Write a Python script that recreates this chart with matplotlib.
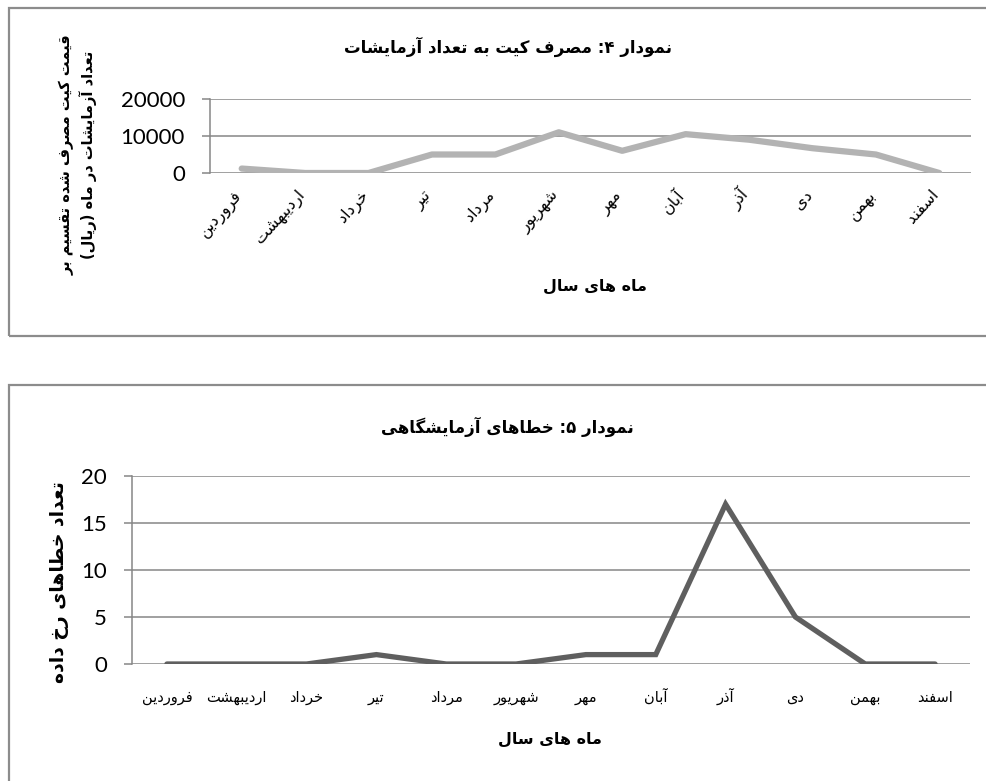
import matplotlib
matplotlib.use('Agg')
from matplotlib import pyplot as plt
from matplotlib.patches import Rectangle

# --- data ---
months = ['فروردین', 'اردیبهشت', 'خرداد', 'تیر', 'مرداد', 'شهریور',
          'مهر', 'آبان', 'آذر', 'دی', 'بهمن', 'اسفند']
kit_cost = [1200, 0, 0, 5000, 5000, 11000, 6000, 10500, 9000, 6700, 5000, 0]
lab_errors = [0, 0, 0, 1, 0, 0, 1, 1, 17, 5, 0, 0]

title_top = 'نمودار ۴: مصرف کیت به تعداد آزمایشات'
ylabel_top = 'قیمت کیت مصرف شده تقسیم بر\nتعداد آزمایشات در ماه (ریال)'
title_bottom = 'نمودار ۵: خطاهای آزمایشگاهی'
ylabel_bottom = 'تعداد خطاهای رخ داده'
xlabel = 'ماه های سال'
yticks_top = [0, 10000, 20000]
yticks_bottom = [0, 5, 10, 15, 20]

# matplotlib does no arabic shaping, so map letters to presentation forms
# (iso, fin, ini, med) ; 2-tuple = only joins to the previous letter
FORMS = {
    'ا': ('\uFE8D', '\uFE8E'), 'آ': ('\uFE81', '\uFE82'),
    'ب': ('\uFE8F', '\uFE90', '\uFE91', '\uFE92'),
    'ت': ('\uFE95', '\uFE96', '\uFE97', '\uFE98'),
    'خ': ('\uFEA5', '\uFEA6', '\uFEA7', '\uFEA8'),
    'د': ('\uFEA9', '\uFEAA'), 'ذ': ('\uFEAB', '\uFEAC'),
    'ر': ('\uFEAD', '\uFEAE'), 'ز': ('\uFEAF', '\uFEB0'),
    'س': ('\uFEB1', '\uFEB2', '\uFEB3', '\uFEB4'),
    'ش': ('\uFEB5', '\uFEB6', '\uFEB7', '\uFEB8'),
    'ص': ('\uFEB9', '\uFEBA', '\uFEBB', '\uFEBC'),
    'ط': ('\uFEC1', '\uFEC2', '\uFEC3', '\uFEC4'),
    'ع': ('\uFEC9', '\uFECA', '\uFECB', '\uFECC'),
    'ف': ('\uFED1', '\uFED2', '\uFED3', '\uFED4'),
    'ق': ('\uFED5', '\uFED6', '\uFED7', '\uFED8'),
    'ل': ('\uFEDD', '\uFEDE', '\uFEDF', '\uFEE0'),
    'م': ('\uFEE1', '\uFEE2', '\uFEE3', '\uFEE4'),
    'ن': ('\uFEE5', '\uFEE6', '\uFEE7', '\uFEE8'),
    'ه': ('\uFEE9', '\uFEEA', '\uFEEB', '\uFEEC'),
    'و': ('\uFEED', '\uFEEE'),
    'ی': ('\uFBFC', '\uFBFD', '\uFBFE', '\uFBFF'),
    'ک': ('\uFB8E', '\uFB8F', '\uFB90', '\uFB91'),
    'گ': ('\uFB92', '\uFB93', '\uFB94', '\uFB95'),
}


def fa(text):
    lines = []
    for s in text.split('\n'):
        out = []
        for i, c in enumerate(s):
            f = FORMS.get(c)
            if f is None:
                out.append(c)
                continue
            prev = s[i - 1] if i > 0 else ''
            nxt = s[i + 1] if i < len(s) - 1 else ''
            jp = prev in FORMS and len(FORMS[prev]) == 4
            jn = len(f) == 4 and nxt in FORMS
            if jp and jn:
                out.append(f[3])
            elif jp:
                out.append(f[1])
            elif jn:
                out.append(f[2])
            else:
                out.append(f[0])
        vis = ''.join(out)[::-1]
        lines.append(vis.translate(str.maketrans('()', ')(')))
    return '\n'.join(lines)


W, H = 987, 781
plt.rcParams['font.family'] = ['DejaVu Sans']
fig = plt.figure(figsize=(W / 100, H / 100), dpi=100)
fig.patch.set_facecolor('white')


def fx(x):
    return x / W


def fy(y):
    return 1 - y / H


grid_c = '#868686'
border_c = '#8c8c8c'

# chart boxes (they run past the right / bottom edge of the picture)
fig.patches.append(Rectangle((fx(9), fy(336)), fx(1000) - fx(9), fy(8) - fy(336),
                             transform=fig.transFigure, fill=False,
                             edgecolor=border_c, linewidth=1.6))
fig.patches.append(Rectangle((fx(9), fy(800)), fx(1000) - fx(9), fy(385) - fy(800),
                             transform=fig.transFigure, fill=False,
                             edgecolor=border_c, linewidth=1.6))


def style_axes(ax, yticks):
    ax.set_xlim(-0.5, len(months) - 0.5)
    ax.set_ylim(yticks[0], yticks[-1])
    ax.set_yticks(yticks)
    ax.grid(axis='y', color=grid_c, linewidth=1.1)
    ax.set_axisbelow(True)
    for s in ['top', 'right', 'bottom']:
        ax.spines[s].set_visible(False)
    ax.spines['left'].set_color(grid_c)
    ax.spines['left'].set_linewidth(1.1)
    ax.tick_params(axis='y', length=6, width=1.1, color=grid_c, pad=12)
    ax.tick_params(axis='x', length=0)
    for t in ax.get_yticklabels():
        t.set_fontfamily('Lato')
        t.set_fontsize(16)
    ax.set_xticks(range(len(months)))


# top chart
ax1 = fig.add_axes([fx(210), fy(173), fx(971) - fx(210), fy(99) - fy(173)])
ax1.plot(range(len(months)), kit_cost, color='#b3b3b3', linewidth=4.5,
         solid_capstyle='round', solid_joinstyle='round')
style_axes(ax1, yticks_top)
ax1.set_xticklabels([fa(m) for m in months], rotation=48, ha='right',
                    va='baseline', rotation_mode='anchor', fontsize=11.5)
ax1.tick_params(axis='x', pad=16)

fig.text(fx(508), fy(47), fa(title_top), ha='center', va='center',
         fontsize=12, fontweight='bold')
fig.text(fx(595), fy(286), fa(xlabel), ha='center', va='center',
         fontsize=11.5, fontweight='bold')
fig.text(fx(78), fy(155), fa(ylabel_top), ha='center', va='center',
         rotation=90, fontsize=10.5, fontweight='bold', linespacing=1.3,
         multialignment='center')

# bottom chart
ax2 = fig.add_axes([fx(132), fy(664), fx(970) - fx(132), fy(476) - fy(664)])
ax2.plot(range(len(months)), lab_errors, color='#5f5f5f', linewidth=3.8,
         solid_capstyle='round', solid_joinstyle='miter')
style_axes(ax2, yticks_bottom)
ax2.set_xticklabels([fa(m) for m in months], fontsize=10.5, va='baseline')
ax2.tick_params(axis='x', pad=27)

fig.text(fx(507), fy(427), fa(title_bottom), ha='center', va='center',
         fontsize=12, fontweight='bold')
fig.text(fx(550), fy(739), fa(xlabel), ha='center', va='center',
         fontsize=11.5, fontweight='bold')
fig.text(fx(60), fy(582), fa(ylabel_bottom), ha='center', va='center',
         rotation=90, fontsize=13.5, fontweight='bold')

plt.savefig('out.png', dpi=100)
